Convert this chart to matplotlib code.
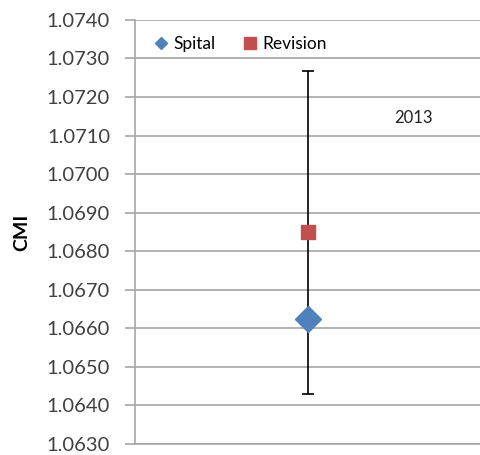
import numpy as np
import matplotlib
matplotlib.use('Agg')
import matplotlib.pyplot as plt
from matplotlib.lines import Line2D

# Data
categories = ['2013']
spital = [1.06623]
revision = [1.06849]
revision_err = [0.00419]
yTicks = np.round(np.arange(1.0630, 1.07401, 0.0010), 4)

plt.rcParams['font.family'] = ['Lato', 'DejaVu Sans']

fig = plt.figure(figsize=(4.8, 4.55), dpi=100)
ax = fig.add_axes([0.28125, 0.0242, 0.72, 0.932])

x = np.arange(len(categories))
ax.errorbar(x, revision, yerr=revision_err, fmt='none', ecolor='black',
            elinewidth=1.2, capsize=4, capthick=1.2, zorder=2)
ax.plot(x, revision, 's', color='#C0504D', markersize=10, zorder=3)
ax.plot(x, spital, 'D', color='#4F81BD', markersize=13, zorder=3)

# Axis settings
ax.set_xlim(-0.5, 0.5)
ax.set_ylim(yTicks[0], yTicks[-1])
ax.set_yticks(yTicks)
ax.set_yticklabels(['%.4f' % t for t in yTicks], fontsize=14.5, color='#404040')
ax.set_xticks([])
ax.yaxis.grid(True, color='#a6a6a6', linewidth=1.2)
ax.set_axisbelow(True)
ax.tick_params(axis='y', length=7, width=1.2, color='#a6a6a6', pad=11)
for side in ['top', 'right']:
    ax.spines[side].set_visible(False)
for side in ['left', 'bottom']:
    ax.spines[side].set_color('#a6a6a6')
    ax.spines[side].set_linewidth(1.2)

ax.set_ylabel('CMI', fontsize=14, fontweight='bold', labelpad=12)
ax.text(0.307, 1.07145, categories[0], fontsize=12, color='#202020',
        ha='center', va='center')

# Legend
handles = [Line2D([], [], marker='D', linestyle='none', color='#4F81BD', markersize=6.5),
           Line2D([], [], marker='s', linestyle='none', color='#C0504D', markersize=9)]
ax.legend(handles, ['Spital', 'Revision'], loc='upper left', bbox_to_anchor=(0.015, 0.995),
          ncol=2, frameon=False, fontsize=12.5, handlelength=0.8, handletextpad=0.3,
          columnspacing=1.6, borderaxespad=0.4)

plt.savefig('out.png', dpi=100)
